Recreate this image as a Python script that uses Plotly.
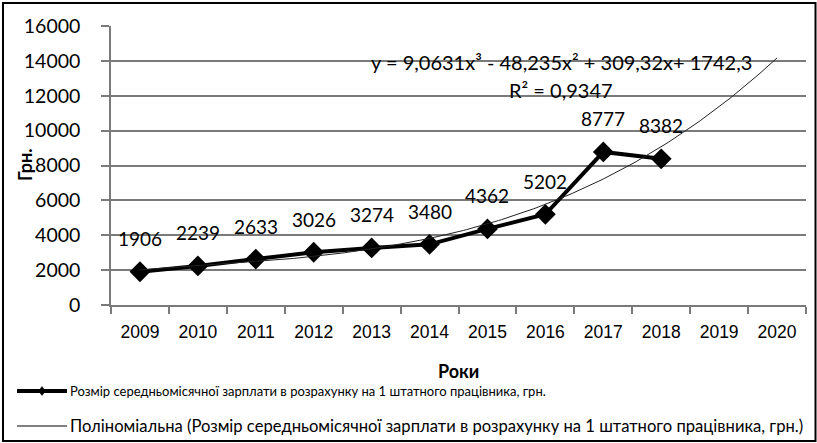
import numpy as np
import plotly.graph_objects as go

years = [2009, 2010, 2011, 2012, 2013, 2014, 2015, 2016, 2017, 2018]
salary = [1906, 2239, 2633, 3026, 3274, 3480, 4362, 5202, 8777, 8382]
axis_years = [2009, 2010, 2011, 2012, 2013, 2014, 2015, 2016, 2017, 2018, 2019, 2020]
trend_coef = [9.0631, -48.235, 309.32, 1742.3]  # cubic trend, x = year index (2009 -> 1)
y_ticks = [0, 2000, 4000, 6000, 8000, 10000, 12000, 14000, 16000]

series_name = "Розмір середньомісячної зарплати в розрахунку на 1 штатного працівника, грн."
trend_name = "Поліноміальна (Розмір середньомісячної зарплати в розрахунку на 1 штатного працівника, грн.)"

W, H = 817, 443
L, R, T, B = 111, 11, 26, 138
PW, PH = W - L - R, H - T - B

def px(xp):
    return (xp - L) / PW

def py(yp):
    return (H - B - yp) / PH

base = axis_years[0] - 1
tx = np.linspace(axis_years[0], axis_years[-1], 200)
ty = np.polyval(trend_coef, tx - base)

fig = go.Figure()
fig.add_trace(go.Scatter(
    x=years, y=salary, mode="lines+markers", name=series_name,
    line=dict(color="black", width=4),
    marker=dict(symbol="diamond", size=16, color="black"),
))
fig.add_trace(go.Scatter(
    x=tx, y=ty, mode="lines", name=trend_name,
    line=dict(color="#222", width=1),
))

for xv, yv in zip(years, salary):
    fig.add_annotation(x=xv, y=yv, text=str(yv), showarrow=False, yshift=33,
                       font=dict(family="Lato", size=19, color="black"))

fig.add_annotation(x=2016.27, y=13935, text="y = 9,0631x³ - 48,235x² + 309,32x+ 1742,3",
                   showarrow=False, font=dict(family="Lato", size=20, color="black"))
fig.add_annotation(x=2016.27, y=12330, text="R² = 0,9347",
                   showarrow=False, font=dict(family="Lato", size=20, color="black"))

fig.add_annotation(xref="paper", yref="paper", x=0.5, y=py(371),
                   xanchor="center", yanchor="middle",
                   text="<b>Роки</b>", showarrow=False,
                   font=dict(family="Lato", size=18, color="black"))
fig.add_annotation(xref="paper", yref="paper", x=px(25), y=py(165),
                   xanchor="center", yanchor="middle",
                   text="<b>Грн.</b>", showarrow=False, textangle=-90,
                   font=dict(family="Lato", size=18, color="black"))

# legend (drawn manually to match the reference layout)
rows = [(391, series_name, 13, 4, True), (426, trend_name, 16.6, 1, False)]
for yp, label, fs, lw, diamond in rows:
    fig.add_shape(type="line", xref="paper", yref="paper",
                  x0=px(17), x1=px(67), y0=py(yp), y1=py(yp),
                  line=dict(color="black", width=lw))
    if diamond:
        fig.add_shape(type="path", xref="paper", yref="paper",
                      path="M {a},{b} L {c},{d} L {a},{e} L {f},{d} Z".format(
                          a=px(42), b=py(yp - 4.5), c=px(45.5), d=py(yp),
                          e=py(yp + 4.5), f=px(38.5)),
                      fillcolor="black", line=dict(color="black", width=0.5))
    fig.add_annotation(xref="paper", yref="paper", x=px(68), y=py(yp),
                       xanchor="left", yanchor="middle", text=label, showarrow=False,
                       font=dict(family="Lato", size=fs, color="black"))

# outer border
fig.add_shape(type="rect", xref="paper", yref="paper",
              x0=px(3), x1=px(815.5), y0=py(441), y1=py(3),
              line=dict(color="black", width=2))

grid = "#7a7a7a"
fig.update_layout(
    width=W, height=H,
    margin=dict(l=L, r=R, t=T, b=B),
    paper_bgcolor="white", plot_bgcolor="white",
    showlegend=False,
    xaxis=dict(range=[axis_years[0] - 0.5, axis_years[-1] + 0.5],
               tickvals=axis_years, ticktext=[str(v) for v in axis_years],
               ticks="", showgrid=False, zeroline=False, automargin=False,
               showline=True, linecolor=grid, linewidth=1.5, ticklabelstandoff=10,
               tickfont=dict(family="Liberation Sans", size=17.5, color="black"),
               minor=dict(ticks="outside", tick0=axis_years[0] - 0.5, dtick=1,
                          ticklen=7, tickcolor=grid, tickwidth=1.5, showgrid=False)),
    yaxis=dict(range=[0, 16000], tickvals=y_ticks, ticktext=[str(v) for v in y_ticks],
               ticks="outside", ticklen=8, tickcolor=grid, tickwidth=1.5,
               showgrid=True, gridcolor=grid, gridwidth=1.5, zeroline=False,
               automargin=False, ticklabelstandoff=17,
               showline=True, linecolor=grid, linewidth=1.5,
               tickfont=dict(family="Lato", size=19.5, color="black")),
)

fig.write_html(
    "out.html",
    config={"displayModeBar": False},
    post_script="document.body.style.margin='0';document.body.style.padding='0';"
                "document.documentElement.style.overflow='hidden';",
)
